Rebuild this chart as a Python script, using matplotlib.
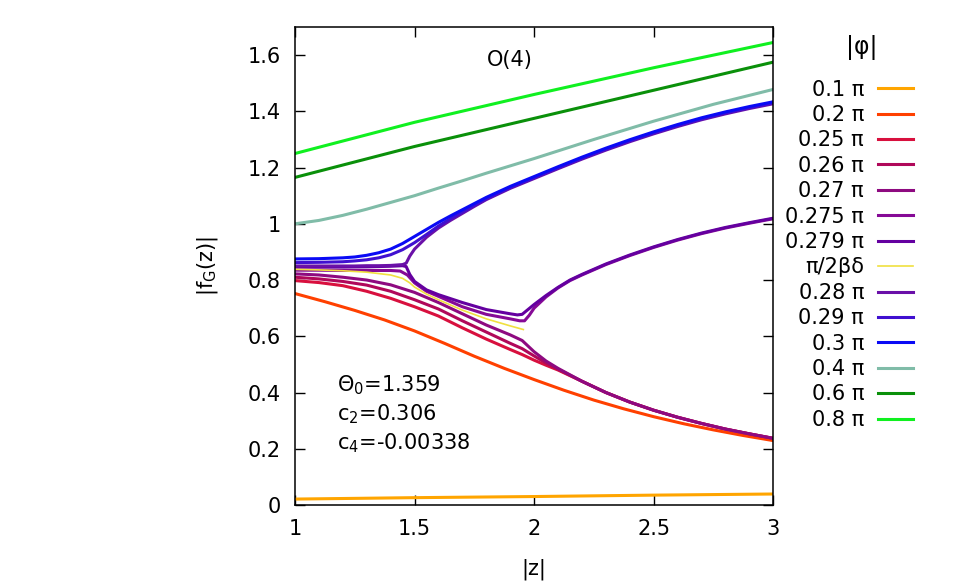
import numpy as np
import matplotlib
matplotlib.use("Agg")
import matplotlib.pyplot as plt

# |z| sample points and |f_G(z)| values
z_lin = [1.0, 1.5, 2.0, 2.5, 3.0]
f_010 = [0.021, 0.026, 0.030, 0.035, 0.039]
f_060 = [1.165, 1.275, 1.375, 1.475, 1.575]
f_080 = [1.25, 1.361, 1.46, 1.555, 1.645]

z_020 = [1.0, 1.125, 1.25, 1.375, 1.5, 1.625, 1.75, 1.875, 2.0, 2.125, 2.25, 2.375, 2.5, 2.625, 2.75, 2.875, 3.0]
f_020 = [0.752, 0.723, 0.692, 0.658, 0.619, 0.575, 0.529, 0.486, 0.446, 0.408, 0.373, 0.342, 0.314, 0.289, 0.267, 0.247, 0.229]

z_040 = [1.0, 1.1, 1.2, 1.3, 1.4, 1.5, 1.6, 1.7, 1.8, 1.9, 2.0, 2.25, 2.5, 2.75, 3.0]
f_040 = [1.0, 1.012, 1.03, 1.052, 1.076, 1.10, 1.127, 1.153, 1.18, 1.206, 1.232, 1.30, 1.365, 1.425, 1.478]

# lower branch, shared by 0.25/0.26/0.27 past z ~ 2.1
z_tail = [2.2, 2.3, 2.4, 2.5, 2.6, 2.7, 2.8, 2.9, 3.0]
f_tail = [0.44, 0.40, 0.366, 0.337, 0.312, 0.29, 0.27, 0.253, 0.237]

z_low = [1.0, 1.1, 1.2, 1.3, 1.4, 1.5, 1.6, 1.7, 1.8, 1.9, 1.95, 2.0, 2.05, 2.1]
f_025 = [0.798, 0.791, 0.78, 0.76, 0.735, 0.705, 0.672, 0.63, 0.59, 0.553, 0.535, 0.515, 0.497, 0.48]
f_026 = [0.81, 0.804, 0.795, 0.782, 0.76, 0.73, 0.697, 0.655, 0.615, 0.575, 0.556, 0.53, 0.505, 0.483]
f_027 = [0.822, 0.818, 0.81, 0.80, 0.783, 0.756, 0.72, 0.68, 0.64, 0.605, 0.585, 0.545, 0.512, 0.486]

# right branch, shared by 0.275/0.279 past z ~ 2.2
z_right = [2.3, 2.4, 2.5, 2.6, 2.7, 2.8, 2.9, 3.0]
f_right = [0.857, 0.889, 0.918, 0.944, 0.967, 0.987, 1.004, 1.02]

z_0275 = [1.0, 1.1, 1.2, 1.3, 1.4, 1.44, 1.47, 1.5, 1.55, 1.6, 1.7, 1.8, 1.9, 1.94,
          1.96, 1.98, 2.0, 2.05, 2.1, 2.15, 2.2]
f_0275 = [0.835, 0.835, 0.834, 0.834, 0.834, 0.832, 0.818, 0.79, 0.76, 0.742, 0.705, 0.678, 0.662, 0.655,
          0.655, 0.675, 0.70, 0.74, 0.772, 0.798, 0.818]

z_0279 = [1.0, 1.1, 1.2, 1.3, 1.4, 1.45, 1.465, 1.48, 1.5, 1.55, 1.6, 1.7, 1.8, 1.9, 1.93,
          1.95, 1.97, 2.0, 2.05, 2.1, 2.15, 2.2]
f_0279 = [0.846, 0.846, 0.846, 0.847, 0.849, 0.851, 0.848, 0.82, 0.795, 0.765, 0.748, 0.72, 0.695, 0.68, 0.676,
          0.678, 0.692, 0.713, 0.745, 0.774, 0.80, 0.82]

z_crit = [1.0, 1.1, 1.2, 1.3, 1.4, 1.45, 1.48, 1.5, 1.55, 1.6, 1.7, 1.8, 1.9, 1.955]
f_crit = [0.838, 0.836, 0.833, 0.828, 0.818, 0.806, 0.79, 0.775, 0.75, 0.73, 0.693, 0.662, 0.637, 0.624]

# upper branch
z_up = [1.0, 1.1, 1.2, 1.25, 1.3, 1.35, 1.4, 1.45, 1.5, 1.55, 1.6, 1.65, 1.7, 1.75, 1.8,
        1.9, 2.0, 2.1, 2.2, 2.3, 2.4, 2.5, 2.6, 2.7, 2.8, 2.9, 3.0]
f_030 = [0.875, 0.876, 0.879, 0.882, 0.888, 0.897, 0.91, 0.93, 0.955, 0.98, 1.005, 1.028, 1.05, 1.072, 1.094,
         1.133, 1.168, 1.203, 1.237, 1.269, 1.299, 1.327, 1.353, 1.377, 1.398, 1.417, 1.434]
f_029 = [0.862, 0.863, 0.865, 0.868, 0.872, 0.879, 0.89, 0.908, 0.933, 0.962, 0.992, 1.018, 1.042, 1.066, 1.089,
         1.129, 1.164, 1.199, 1.233, 1.265, 1.295, 1.323, 1.349, 1.373, 1.394, 1.413, 1.430]
f_028 = [0.850, 0.850, 0.850, 0.850, 0.851, 0.851, 0.852, 0.855, 0.91, 0.952, 0.985, 1.012, 1.037, 1.062, 1.086,
         1.126, 1.161, 1.196, 1.230, 1.262, 1.292, 1.320, 1.346, 1.370, 1.391, 1.410, 1.427]
z_cusp = [1.465, 1.48]
f_cusp = [0.86, 0.885]

series = [
    ("0.1 π", z_lin, f_010, "#ffa500", 2.2),
    ("0.2 π", z_020, f_020, "#ff4000", 2.2),
    ("0.25 π", z_low + z_tail, f_025 + f_tail, "#d8103e", 2.2),
    ("0.26 π", z_low + z_tail, f_026 + f_tail, "#b0085a", 2.2),
    ("0.27 π", z_low + z_tail, f_027 + f_tail, "#8e0a80", 2.2),
    ("0.275 π", z_0275 + z_right, f_0275 + [v - 0.002 for v in f_right], "#860a96", 2.2),
    ("0.279 π", z_0279 + z_right, f_0279 + f_right, "#6400a0", 2.2),
    ("π/2βδ", z_crit, f_crit, "#f0e040", 1.2),
    ("0.28 π", z_up[:8] + z_cusp + z_up[8:], f_028[:8] + f_cusp + f_028[8:], "#6a10a8", 2.2),
    ("0.29 π", z_up, f_029, "#4010d0", 2.2),
    ("0.3 π", z_up, f_030, "#0a0af5", 2.2),
    ("0.4 π", z_040, f_040, "#80bca8", 2.2),
    ("0.6 π", z_lin, f_060, "#0a900a", 2.2),
    ("0.8 π", z_lin, f_080, "#10f020", 2.2),
]

plt.rcParams["font.family"] = ["DejaVu Sans"]
plt.rcParams["font.size"] = 15

fig = plt.figure(figsize=(9.8, 5.88), dpi=100)
ax = fig.add_axes([0.301, 0.1412, 0.488, 0.8129])

for label, z, f, col, lw in series:
    ax.plot(z, f, color=col, lw=lw, label=label, solid_joinstyle="round")

ax.set_xlim(1, 3)
ax.set_ylim(0, 1.7)
ax.set_xticks([1, 1.5, 2, 2.5, 3])
ax.set_xticklabels(["1", "1.5", "2", "2.5", "3"])
ax.set_yticks(np.arange(0, 1.61, 0.2))
ax.set_yticklabels(["0", "0.2", "0.4", "0.6", "0.8", "1", "1.2", "1.4", "1.6"])
ax.tick_params(direction="in", top=True, right=True, length=7, width=1, pad=10, labelsize=15)
for sp in ax.spines.values():
    sp.set_linewidth(1.1)

ax.set_xlabel("|z|", fontsize=15, labelpad=14)
ax.set_ylabel("|f$_\\mathregular{G}$(z)|", fontsize=15, labelpad=20)

ax.text(1.9, 1.582, "O(4)", ha="center", va="center", fontsize=15)
ax.text(1.176, 0.427, "Θ$_\\mathregular{0}$=1.359", ha="left", va="center", fontsize=15)
ax.text(1.176, 0.324, "c$_\\mathregular{2}$=0.306", ha="left", va="center", fontsize=15)
ax.text(1.176, 0.220, "c$_\\mathregular{4}$=-0.00338", ha="left", va="center", fontsize=15)

fig.text(862 / 980, 1 - 47 / 588, "|φ|", ha="center", va="center", fontsize=17)
leg = fig.legend(loc="upper right", bbox_to_anchor=(913 / 980, 1 - 79.5 / 588), frameon=False,
                 markerfirst=False, handlelength=1.68, handletextpad=0.67,
                 labelspacing=0.26, borderpad=0, borderaxespad=0, fontsize=15)

fig.savefig("out.png", dpi=100)
